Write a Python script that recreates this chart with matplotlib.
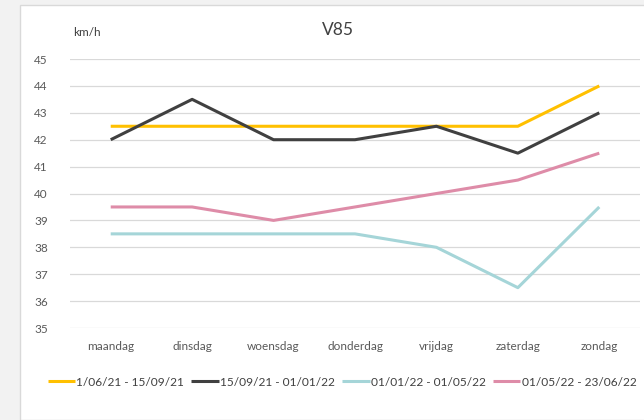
import numpy as np
import matplotlib.pyplot as plt
from matplotlib.patches import Rectangle

plt.rcParams['font.family'] = ['Lato', 'DejaVu Sans']

days = ['maandag', 'dinsdag', 'woensdag', 'donderdag', 'vrijdag', 'zaterdag', 'zondag']
labels = ['1/06/21 - 15/09/21', '15/09/21 - 01/01/22', '01/01/22 - 01/05/22', '01/05/22 - 23/06/22']
yellow = [42.5, 42.5, 42.5, 42.5, 42.5, 42.5, 44]
black = [42, 43.5, 42, 42, 42.5, 41.5, 43]
cyan = [38.5, 38.5, 38.5, 38.5, 38, 36.5, 39.5]
pink = [39.5, 39.5, 39, 39.5, 40, 40.5, 41.5]
colors = ['#FFC000', '#404040', '#A5D5D8', '#DE8CA8']

fig = plt.figure(figsize=(6.44, 4.2), dpi=100)
fig.patch.set_facecolor('#F2F2F2')
# white chart area with thin frame
fig.patches.append(Rectangle((20/644, 0), 1, 1 - 5/420, transform=fig.transFigure,
                             facecolor='white', edgecolor='#D9D9D9', lw=1, zorder=-10))

ax = fig.add_axes([70/644, 0.219, 570/644, 0.6405])
x = np.arange(len(days))
for s, c, l in zip([yellow, black, cyan, pink], colors, labels):
    ax.plot(x, s, color=c, lw=2.2, label=l, solid_capstyle='butt')

ax.set_xlim(-0.5, 6.5)
ax.set_ylim(35, 45)
ax.set_yticks(range(35, 46))
ax.set_xticks(x)
ax.set_xticklabels(days)
ax.grid(axis='y', color='#D9D9D9', lw=0.9)
ax.set_axisbelow(True)
for sp in ax.spines.values():
    sp.set_visible(False)
ax.tick_params(length=0, colors='#595959', labelsize=8.5)
ax.tick_params(axis='x', pad=9)
ax.tick_params(axis='y', pad=16)
ax.set_facecolor('none')

fig.text(338/644, 1 - 30/420, 'V85', ha='center', va='center', fontsize=12.5, color='#404040')
fig.text(87/644, 1 - 33/420, 'km/h', ha='center', va='center', fontsize=8.5, color='#404040')

fig.legend(loc='center', bbox_to_anchor=(342/644, 1 - 382/420), ncol=4, frameon=False,
           fontsize=8.6, handlelength=2.3, handletextpad=0.1, columnspacing=0.6,
           labelcolor='#404040')

fig.savefig('out.png', dpi=100)
